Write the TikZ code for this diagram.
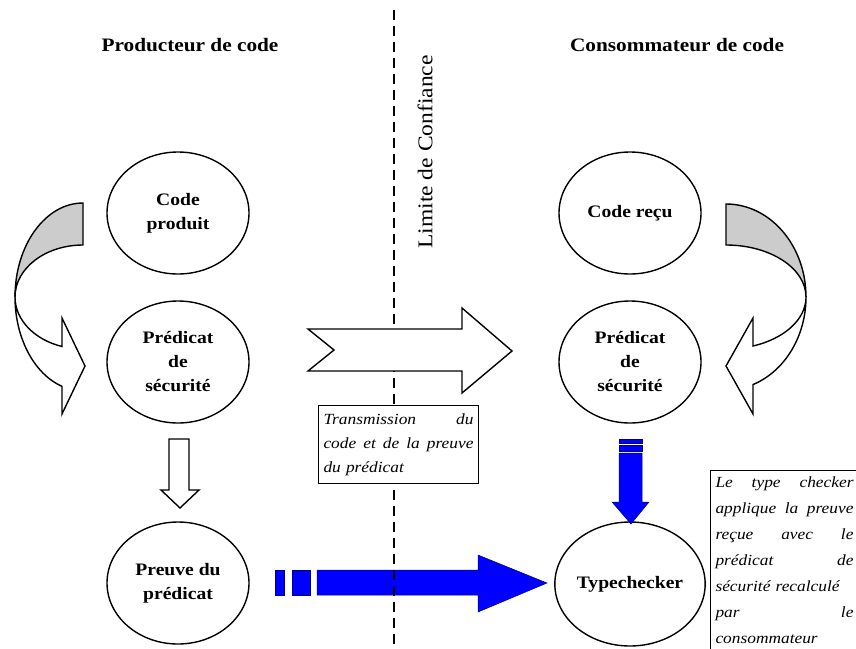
\documentclass[tikz,border=0pt]{standalone}
\usepackage{fontspec}
\setmainfont{Liberation Serif}[FakeStretch=1.12]
\usetikzlibrary{shapes.geometric}
% a line of a note, spread to the full text width (justified)
\newcommand{\fullline}[1]{\hbox to\hsize{\spaceskip=0pt\xspaceskip=0pt #1}}
\begin{document}
\begin{tikzpicture}[x=1pt,y=-1pt,
  bubble/.style={draw=black, line width=1.4pt, ellipse, minimum width=142pt,
    minimum height=122pt, inner sep=0pt, align=center,
    font=\fontsize{17.5}{24}\selectfont\bfseries},
  header/.style={font=\fontsize{19}{22}\selectfont\bfseries},
  note/.style={draw=black, line width=1pt, fill=white, anchor=north west,
    inner xsep=5pt, inner ysep=8pt, align=left,
    font=\fontsize{15.5}{24}\selectfont\itshape},
  hollow/.style={draw=black, line width=1.4pt, fill=white, line join=miter},
  back/.style={draw=black, line width=1.4pt, fill=gray!40, line join=miter},
  bluearrow/.style={fill=blue, draw=blue!50!black, line width=0.5pt},
  boundary/.style={line width=1.8pt, dash pattern=on 10pt off 6pt}
]
\useasboundingbox (0,0) rectangle (856,648);
\clip (0,0) rectangle (856,648);

% column headers
\node[header] (prodhead) at (190,45) {Producteur de code};
\node[header] (conshead) at (677,45) {Consommateur de code};

% producer side
\node[bubble] (prod)   at (178,213) {Code\\produit};
\node[bubble] (predL)  at (178,362) {Prédicat\\de\\sécurité};
\node[bubble] (preuve) at (178,583) {Preuve du\\prédicat};

% consumer side
\node[bubble] (recu)  at (630,213) {Code reçu};
\node[bubble] (predR) at (630,362) {Prédicat\\de\\sécurité};
\node[bubble, minimum width=148pt, minimum height=124pt] (tc) at (630,584) {Typechecker};

% blue transmission arrow (drawn under the trust boundary)
\fill[bluearrow] (275,570) rectangle (284,595);
\fill[bluearrow] (292,570) rectangle (310,595);
\filldraw[bluearrow] (317,570) -- (478,570) -- (478,555) -- (547,583)
  -- (478,612) -- (478,595) -- (317,595) -- cycle;

% trust boundary
\coordinate (limtop) at (394,10);
\coordinate (limbot) at (394,648);
\draw[boundary] (limtop) -- (limbot);
\node[rotate=90, font=\fontsize{21}{24}\selectfont] (limite) at (425,152) {Limite de Confiance};

% transmission arrow and its note
\draw[hollow] (308,329) -- (462,329) -- (462,308) -- (512,351) -- (462,393)
  -- (462,371) -- (308,371) -- (334,350) -- cycle;
\node[note, text width=150pt] (trans) at (318,405)
  {\fullline{Transmission du}
   \fullline{code et de la preuve}
   du prédicat};

% producer: curved arrow from code to predicate
\draw[back] (83,203) arc[start angle=-90, end angle=-180, x radius=68, y radius=94]
  arc[start angle=180, end angle=270, x radius=68, y radius=52] -- cycle;
\draw[hollow] (15,297) arc[start angle=180, end angle=108, x radius=68, y radius=94]
  -- (62,414) -- (85,366) -- (62,318) -- (62,346.5)
  arc[start angle=108, end angle=180, x radius=68, y radius=52] -- cycle;

% consumer: curved arrow from code to predicate
\draw[back] (726,204) arc[start angle=-90, end angle=0, x radius=80, y radius=93]
  arc[start angle=0, end angle=-90, x radius=80, y radius=52] -- cycle;
\draw[hollow] (806,297) arc[start angle=0, end angle=70.3, x radius=80, y radius=93]
  -- (753,414) -- (726,366) -- (753,318) -- (753,346)
  arc[start angle=70.3, end angle=0, x radius=80, y radius=52] -- cycle;

% producer: predicate to proof
\draw[hollow] (169,439) -- (189,439) -- (189,490) -- (199,490) -- (180,508)
  -- (161,490) -- (169,490) -- cycle;

% consumer: predicate to typechecker
\fill[bluearrow] (619,439) rectangle (642,443);
\fill[bluearrow] (619,445) rectangle (642,451);
\filldraw[bluearrow] (619,453) -- (619,502) -- (612,502) -- (631,524)
  -- (649,502) -- (642,502) -- (642,453) -- cycle;

% typechecker note
\node[note, text width=138pt, inner ysep=6pt, font=\fontsize{15.5}{26}\selectfont\itshape] (tcnote) at (710,470)
  {\fullline{Le type checker}
   \fullline{applique la preuve}
   \fullline{reçue avec le}
   \fullline{prédicat de}
   sécurité recalculé\\
   \fullline{par le}
   consommateur};
\end{tikzpicture}
\end{document}
